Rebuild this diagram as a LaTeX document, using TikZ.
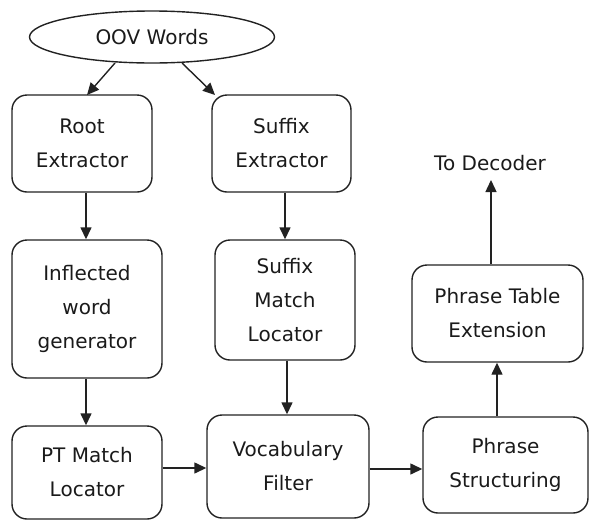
\documentclass[tikz,border=0pt]{standalone}
\usepackage{fontspec}
\setmainfont{DejaVu Sans}
\usetikzlibrary{arrows.meta,shapes.geometric}
\definecolor{ln}{HTML}{222222}
\definecolor{tx}{HTML}{1A1A1A}
\begin{document}
\begin{tikzpicture}[x=1pt,y=-1pt,
  box/.style={draw=ln,line width=1.4pt,rounded corners=15pt,align=center,inner sep=0pt,
    text=tx,font={\fontsize{20}{34}\selectfont}},
  conn/.style={draw=ln,line width=1.4pt,-{Triangle[length=12pt,width=11pt]}}]
\useasboundingbox (0,0) rectangle (590,520);
\node[draw=ln,line width=1.4pt,ellipse,minimum width=245pt,minimum height=52pt,inner sep=0pt,
  text=tx,font={\fontsize{20}{34}\selectfont}] (oov) at (152,37) {OOV Words};
\node[box,minimum width=140pt,minimum height=97pt] (root) at (82,143.5) {Root\\Extractor};
\node[box,minimum width=139pt,minimum height=97pt] (sext) at (281.5,143.5) {Suffix\\Extractor};
\node[box,minimum width=150pt,minimum height=138pt] (infl) at (87,309) {Inflected\\word\\generator};
\node[box,minimum width=140pt,minimum height=120pt] (sml) at (285,300) {Suffix\\Match\\Locator};
\node[box,minimum width=150pt,minimum height=93pt] (ptm) at (87,472.5) {PT Match\\Locator};
\node[box,minimum width=162pt,minimum height=103pt] (voc) at (288,466.5) {Vocabulary\\Filter};
\node[box,minimum width=165pt,minimum height=96pt] (phs) at (505.5,465) {Phrase\\Structuring};
\node[box,minimum width=171pt,minimum height=97pt] (pte) at (497.5,313.5) {Phrase Table\\Extension};
\node[text=tx,font={\fontsize{20}{34}\selectfont},inner sep=0pt] (dec) at (490,163) {To Decoder};
\coordinate (decin) at (491,180);
\draw[conn] (115,63) -- (87,95);
\draw[conn] (182,63) -- (215,95);
\draw[conn] (root.south -| 86,0) -- (infl.north -| 86,0);
\draw[conn] (sext.south -| 285,0) -- (sml.north -| 285,0);
\draw[conn] (infl.south -| 86,0) -- (ptm.north -| 86,0);
\draw[conn] (sml.south -| 287,0) -- (voc.north -| 287,0);
\draw[conn] (ptm.east |- 0,468) -- (voc.west |- 0,468);
\draw[conn] (voc.east |- 0,469) -- (phs.west |- 0,469);
\draw[conn] (phs.north -| 497,0) -- (pte.south -| 497,0);
\draw[conn] (pte.north -| 491,0) -- (decin);
\end{tikzpicture}
\end{document}
